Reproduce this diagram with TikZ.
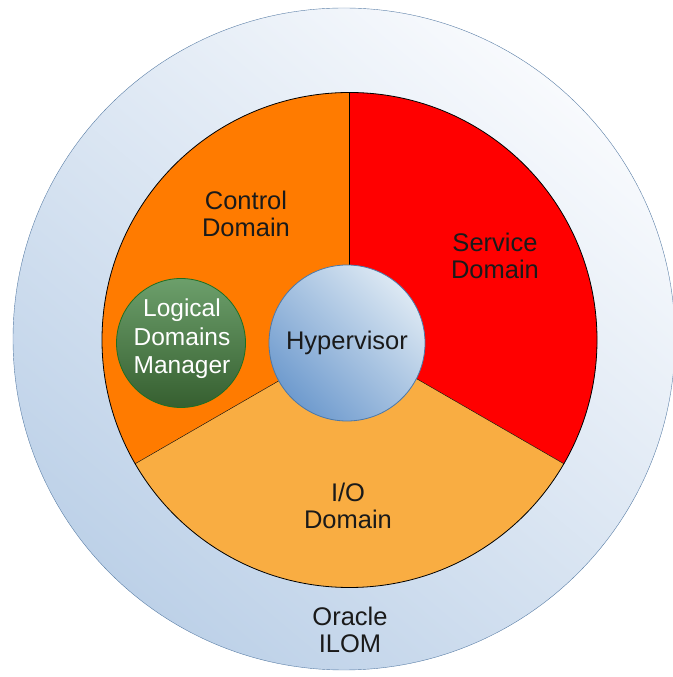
\documentclass[tikz,border=0pt]{standalone}
\usepackage{fontspec}
\setmainfont{Liberation Sans}
\definecolor{ilomlight}{HTML}{F8FAFD}
\definecolor{ilomdark}{HTML}{BDD1E8}
\definecolor{ilomedge}{HTML}{5A7EA6}
\definecolor{ctrlorange}{HTML}{FF7B00}
\definecolor{iolight}{HTML}{F9AD42}
\definecolor{hvlight}{HTML}{DCE8F3}
\definecolor{hvdark}{HTML}{6F9BCE}
\definecolor{hvedge}{HTML}{4C78A8}
\definecolor{ldmlight}{HTML}{6C9F6B}
\definecolor{ldmdark}{HTML}{365F30}
\definecolor{ldmedge}{HTML}{1F6E22}
\definecolor{txt}{HTML}{1A1A1A}
\tikzset{
  lbl/.style={align=center, text=txt, font=\fontsize{25.5}{27}\selectfont},
  ball/.style={circle, inner sep=0pt},
}
\begin{document}
\begin{tikzpicture}[x=1pt,y=1pt]
		\useasboundingbox (0,0) rectangle (672,677);
		\node[ball, draw=ilomedge, top color=ilomlight, bottom color=ilomdark, shading angle=-40, minimum size=662pt] (ilom) at (344,338) {};
		\coordinate (c) at (349.5,337);

		% the three domains
		\fill[ctrlorange] (c) -- ++(90:247.5) arc[start angle=90, end angle=210, radius=247.5] -- cycle;
		\fill[red] (c) -- ++(-30:247.5) arc[start angle=-30, end angle=90, radius=247.5] -- cycle;
		\fill[iolight] (c) -- ++(210:247.5) arc[start angle=210, end angle=330, radius=247.5] -- cycle;
		\draw[thick] (c) circle (247.5);
		\draw (c) -- ++(90:247.5);
		\draw (c) -- ++(210:247.5);
		\draw (c) -- ++(330:247.5);

		\node[ball, draw=hvedge, thick, top color=hvlight, bottom color=hvdark, shading angle=-45, minimum size=156pt] (hv) at (347,334) {};
		\node[lbl] (hvtext) at (hv) {Hypervisor};
		\node[ball, draw=ldmedge, thick, top color=ldmlight, bottom color=ldmdark, minimum size=129pt] (ldm) at (181,334) {};
		\node[lbl, text=white, font=\fontsize{24.5}{28.5}\selectfont] (ldmtext) at (182,338) {Logical\\Domains\\Manager};

		\node[lbl] (ctrl) at (246,463) {Control\\Domain};
		\node[lbl] (svc) at (495,421) {Service\\Domain};
		\node[lbl] (io) at (348,171) {I/O\\Domain};
		\node[lbl] (oracle) at (350,47) {Oracle\\ILOM};
	\end{tikzpicture}
\end{document}
